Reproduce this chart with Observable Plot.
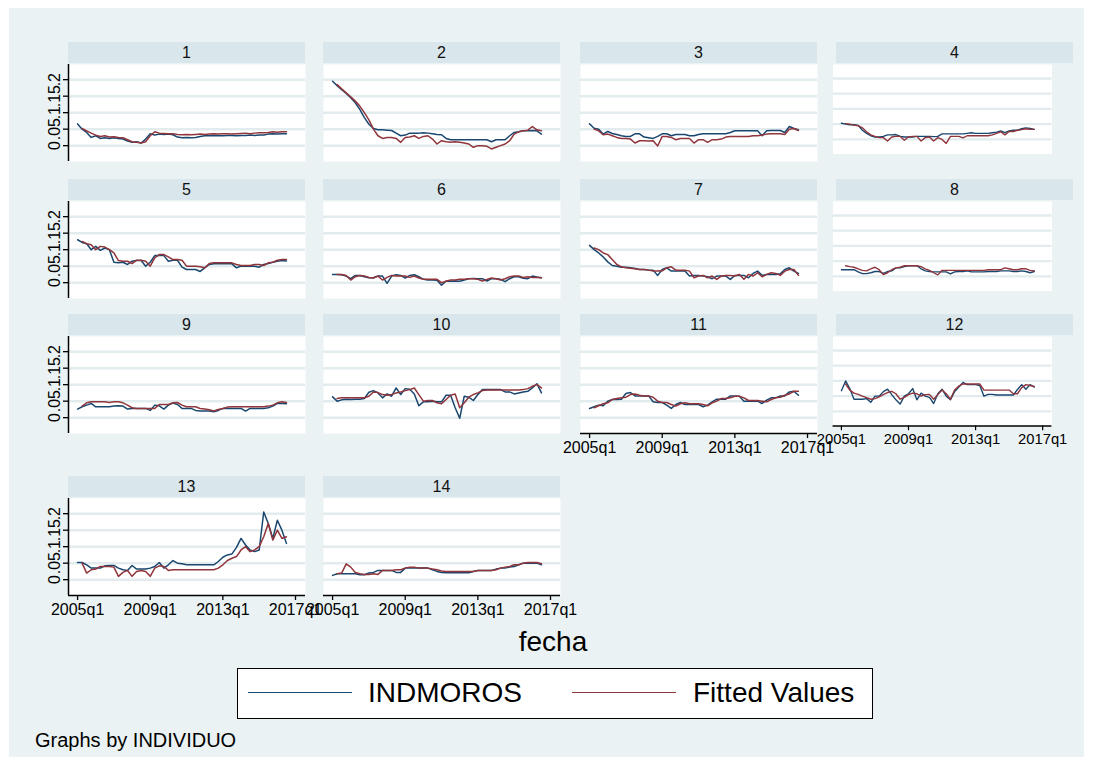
<!DOCTYPE html>
<html><head><meta charset="utf-8">
<script src="https://cdn.jsdelivr.net/npm/d3@7"></script>
<script src="https://cdn.jsdelivr.net/npm/@observablehq/plot@0.6"></script>
<style>
body{margin:0;background:#fff;font-family:"Liberation Sans",Arial,sans-serif;}
#wrap{position:relative;width:1093px;height:765px;overflow:hidden;}
#bg{position:absolute;left:9px;top:8px;width:1075px;height:749px;background:#eaf2f3;}
.hdr{position:absolute;height:21px;background:#d9e6eb;font-size:16px;text-align:center;line-height:22px;color:#111;}
.pan{position:absolute;}
.pan svg{overflow:visible;}
</style></head><body><div id="wrap"><div id="bg"></div></div>
<script>
const panelLabels = ["1","2","3","4","5","6","7","8","9","10","11","12","13","14"];
const xTickPos = [0,16,32,48];
const xTickLabels = ["2005q1","2009q1","2013q1","2017q1"];
const yTicks = [0,.05,.1,.15,.2];
const yTickLabels = ["0",".05",".1",".15",".2"];
const seriesNames = ["INDMOROS","Fitted Values"];
const seriesColors = ["#1a476f","#90353b"];

const ind1=[.066,.05,.04,.025,.03,.022,.024,.022,.024,.022,.02,.014,.01,.012,.008,.02,.036,.032,.035,.034,.035,.033,.026,.024,.025,.024,.025,.028,.03,.03,.031,.03,.03,.031,.031,.03,.031,.031,.032,.031,.032,.032,.035,.036,.035,.036,.036];
const fit1=[null,.052,.045,.038,.032,.028,.03,.026,.027,.025,.024,.018,.012,.01,.008,.012,.03,.042,.038,.037,.036,.036,.034,.033,.034,.033,.034,.035,.034,.035,.036,.035,.036,.036,.035,.036,.037,.038,.036,.038,.039,.039,.04,.042,.041,.042,.042];
const ind2=[.195,.182,.17,.158,.145,.13,.11,.085,.065,.052,.048,.048,.047,.046,.038,.03,.032,.038,.038,.038,.039,.038,.036,.034,.033,.022,.018,.018,.018,.018,.018,.018,.018,.018,.018,.012,.018,.018,.018,.03,.04,.042,.045,.045,.046,.045,.035];
const fit2=[null,.185,.172,.16,.148,.135,.12,.1,.078,.05,.03,.022,.025,.025,.022,.01,.025,.026,.03,.022,.028,.03,.02,.005,.015,.012,.01,.012,.01,.008,.005,-.005,0,0,-.002,-.01,-.005,0,.005,.015,.035,.042,.045,.047,.058,.048,.045];
const ind3=[.066,.053,.05,.035,.043,.037,.034,.03,.028,.028,.036,.036,.026,.024,.022,.028,.036,.036,.03,.034,.034,.034,.03,.03,.034,.036,.036,.036,.036,.036,.036,.04,.045,.045,.045,.045,.045,.045,.03,.045,.046,.046,.046,.04,.058,.052,.048];
const fit3=[null,.05,.045,.033,.035,.03,.025,.022,.022,.02,.008,.015,.015,.014,.015,-.001,.028,.028,.025,.018,.022,.022,.022,.008,.018,.018,.01,.018,.018,.02,.026,.028,.028,.028,.028,.028,.03,.03,.032,.035,.036,.036,.036,.034,.05,.052,.046];
const ind4=[.053,.05,.048,.048,.046,.03,.02,.012,.008,.008,.01,.015,.015,.016,.01,.008,.008,.008,.01,.01,.01,.01,.009,.01,.018,.018,.018,.018,.018,.018,.02,.022,.02,.02,.02,.02,.022,.024,.028,.022,.028,.03,.03,.035,.038,.036,.033];
const fit4=[null,.052,.05,.047,.045,.038,.025,.015,.01,.006,.006,-.005,.008,.01,.01,-.003,.008,.01,.01,-.005,.006,.008,-.005,.006,0,-.013,.01,.01,.01,.005,.012,.012,.012,.012,.012,.012,.015,.02,.025,.015,.026,.026,.03,.032,.035,.033,.033];
const ind5=[.13,.122,.118,.1,.11,.098,.105,.1,.062,.06,.062,.055,.065,.067,.067,.05,.062,.082,.082,.082,.065,.068,.068,.047,.04,.04,.04,.034,.045,.055,.057,.057,.057,.057,.057,.045,.05,.05,.05,.05,.047,.055,.058,.062,.065,.067,.066];
const fit5=[null,.125,.118,.115,.1,.11,.108,.1,.09,.067,.065,.065,.058,.068,.068,.065,.05,.075,.085,.085,.078,.07,.07,.068,.05,.05,.05,.048,.045,.058,.06,.06,.06,.06,.06,.055,.052,.052,.052,.055,.055,.052,.06,.062,.068,.07,.07];
const ind6=[.025,.025,.024,.02,.012,.022,.022,.018,.015,.015,.02,.02,-.002,.02,.024,.022,.014,.022,.024,.018,.01,.008,.008,.007,-.008,.005,.004,.005,.004,.008,.012,.013,.012,.012,.005,.012,.012,.01,.003,.012,.018,.018,.013,.012,.02,.017,.015];
const fit6=[null,.025,.025,.022,.008,.018,.022,.02,.016,.014,.02,.008,.016,.022,.02,.02,.02,.016,.02,.014,.01,.01,.01,.01,0,.004,.008,.008,.01,.01,.012,.012,.01,.005,.01,.014,.012,.008,.012,.018,.02,.02,.016,.018,.016,.016,.015];
const ind7=[.113,.1,.09,.078,.063,.052,.05,.047,.047,.045,.043,.04,.04,.038,.038,.022,.04,.045,.035,.035,.035,.035,.02,.022,.022,.02,.018,.012,.02,.02,.02,.01,.022,.022,.022,.015,.028,.035,.022,.025,.025,.025,.027,.04,.045,.035,.028];
const fit7=[null,.105,.1,.09,.085,.07,.055,.048,.045,.044,.042,.04,.04,.038,.035,.035,.036,.045,.048,.038,.038,.038,.035,.015,.02,.022,.015,.02,.01,.02,.022,.022,.02,.025,.01,.025,.02,.03,.018,.025,.03,.028,.022,.035,.04,.04,.022];
const ind8=[.022,.022,.022,.022,.015,.009,.009,.012,.016,.016,.01,.016,.018,.028,.028,.032,.035,.035,.035,.025,.018,.016,.015,.015,.015,.015,.008,.015,.016,.016,.018,.015,.015,.015,.015,.016,.016,.016,.018,.018,.018,.016,.016,.018,.016,.012,.016];
const fit8=[null,.035,.032,.03,.025,.02,.018,.025,.03,.022,.006,.012,.022,.028,.03,.035,.035,.035,.035,.032,.025,.02,.012,.005,.02,.02,.02,.02,.02,.02,.02,.02,.02,.02,.02,.022,.022,.022,.022,.028,.025,.022,.022,.025,.025,.02,.018];
const ind9=[.026,.033,.038,.043,.033,.033,.033,.033,.035,.036,.035,.026,.028,.028,.028,.028,.022,.038,.036,.026,.038,.044,.04,.028,.028,.028,.022,.02,.02,.02,.018,.022,.028,.028,.028,.028,.028,.02,.028,.028,.028,.028,.03,.035,.043,.043,.042];
const fit9=[null,.035,.045,.048,.048,.048,.048,.046,.048,.048,.045,.038,.03,.028,.028,.028,.028,.028,.04,.04,.04,.045,.046,.038,.033,.033,.033,.028,.026,.024,.02,.025,.028,.032,.033,.033,.033,.033,.033,.033,.033,.033,.035,.038,.045,.048,.046];
const ind10=[.063,.05,.054,.056,.055,.056,.056,.058,.077,.082,.075,.06,.072,.065,.09,.07,.088,.086,.072,.036,.048,.048,.05,.048,.048,.068,.068,.03,-.002,.065,.062,.052,.07,.085,.085,.085,.085,.085,.078,.078,.072,.075,.078,.08,.09,.103,.075];
const fit10=[null,.058,.06,.06,.06,.06,.06,.06,.065,.078,.076,.07,.068,.07,.075,.078,.082,.085,.09,.07,.05,.052,.052,.045,.042,.055,.068,.072,.03,.045,.062,.07,.075,.082,.084,.084,.084,.084,.084,.084,.084,.084,.085,.088,.095,.1,.09];
const ind11=[.028,.033,.038,.036,.05,.055,.055,.056,.073,.076,.066,.066,.066,.066,.048,.046,.046,.038,.028,.04,.046,.04,.04,.04,.04,.033,.038,.048,.056,.056,.056,.066,.066,.065,.05,.05,.05,.05,.043,.053,.06,.06,.066,.066,.078,.08,.068];
const fit11=[null,.03,.036,.042,.045,.055,.058,.06,.062,.07,.072,.068,.066,.066,.062,.05,.046,.046,.04,.035,.042,.045,.042,.042,.042,.04,.036,.045,.05,.058,.058,.06,.065,.065,.06,.052,.052,.052,.05,.048,.055,.06,.062,.068,.072,.08,.08];
const ind12=[.068,.1,.075,.04,.04,.04,.042,.03,.05,.05,.065,.073,.055,.038,.024,.05,.058,.075,.038,.06,.05,.046,.026,.058,.073,.05,.038,.065,.08,.095,.088,.088,.088,.085,.05,.056,.056,.054,.054,.054,.054,.054,.072,.088,.073,.088,.08];
const fit12=[null,.09,.07,.06,.056,.05,.045,.04,.042,.048,.055,.062,.066,.058,.04,.046,.055,.06,.058,.05,.055,.056,.04,.055,.07,.058,.04,.07,.083,.09,.09,.09,.09,.09,.07,.07,.07,.07,.07,.07,.07,.058,.058,.078,.088,.085,.082];
const ind13=[.052,.052,.045,.035,.035,.035,.042,.043,.043,.035,.03,.028,.043,.032,.032,.032,.035,.04,.052,.035,.045,.058,.05,.048,.045,.045,.045,.045,.045,.045,.045,.055,.068,.075,.078,.098,.125,.105,.09,.085,.09,.205,.17,.125,.18,.15,.11];
const fit13=[null,.05,.02,.03,.032,.04,.04,.04,.038,.01,.022,.028,.01,.025,.028,.025,.01,.035,.042,.04,.028,.03,.03,.03,.03,.03,.03,.03,.03,.03,.03,.035,.045,.058,.065,.07,.09,.1,.085,.09,.1,.13,.17,.12,.15,.125,.13];
const ind14=[.013,.018,.018,.018,.018,.018,.015,.015,.02,.022,.028,.028,.028,.028,.022,.022,.035,.035,.035,.035,.035,.035,.03,.025,.022,.021,.021,.021,.021,.021,.021,.025,.028,.028,.028,.028,.032,.035,.035,.038,.04,.045,.05,.05,.05,.05,.045];
const fit14=[null,.018,.02,.048,.038,.022,.018,.016,.016,.018,.016,.028,.028,.028,.03,.03,.035,.038,.038,.035,.035,.035,.032,.03,.026,.025,.025,.025,.025,.025,.025,.025,.028,.028,.028,.028,.03,.035,.038,.04,.045,.045,.05,.052,.052,.052,.048];

const indAll=[ind1,ind2,ind3,ind4,ind5,ind6,ind7,ind8,ind9,ind10,ind11,ind12,ind13,ind14];
const fitAll=[fit1,fit2,fit3,fit4,fit5,fit6,fit7,fit8,fit9,fit10,fit11,fit12,fit13,fit14];

const wrap=document.getElementById("wrap");
const colLeft=[68,323,580,836], rowTop=[64,201,336,498];
const W=237,H=97,ML=45,MR=45,MB=40;
const font='"Liberation Sans",Arial,sans-serif';

panelLabels.forEach((lab,i)=>{
  const r=Math.floor(i/4), c=i%4;
  const showY = c===0;
  const showX = i>=10;
  const rows=[];
  indAll[i].forEach((v,t)=>{ if(v!=null) rows.push({t,v,s:seriesNames[0]}); });
  fitAll[i].forEach((v,t)=>{ if(v!=null) rows.push({t,v,s:seriesNames[1]}); });

  const hdr=document.createElement("div");
  hdr.className="hdr";
  hdr.style.left=colLeft[c]+"px"; hdr.style.top=(rowTop[r]-22)+"px"; hdr.style.width=W+"px";
  hdr.textContent=lab;
  wrap.appendChild(hdr);

  const marks=[
    Plot.frame({fill:"white",stroke:null}),
    Plot.ruleY(yTicks,{stroke:"#e2ebee",strokeWidth:2.5}),
    Plot.line(rows,{x:"t",y:"v",z:"s",stroke:"s",strokeWidth:1.5})
  ];
  if(showY){
    marks.push(Plot.axisY(yTicks,{label:null,tickFormat:d=>yTickLabels[yTicks.indexOf(d)],tickRotate:-90,tickSize:5,tickPadding:4,fontSize:16,stroke:"#000",strokeWidth:1.3,fill:"#000"}));
    marks.push(Plot.ruleX([-2],{stroke:"#000",strokeWidth:1.5}));
  }
  if(showX){
    marks.push(Plot.axisX(xTickPos,{label:null,tickFormat:d=>xTickLabels[xTickPos.indexOf(d)],tickSize:5,tickPadding:3,fontSize:16,stroke:"#000",strokeWidth:1.3,fill:"#000"}));
    marks.push(Plot.ruleY([-0.048],{stroke:"#000",strokeWidth:1.5}));
  }
  const chart=Plot.plot({
    width:W+ML+MR,height:H+MB,marginLeft:ML,marginRight:MR,marginTop:0,marginBottom:MB,
    x:{domain:[-2,50.2],label:null,...(showX?{}:{axis:null})},
    y:{domain:[-0.048,0.246],label:null,...(showY?{}:{axis:null})},
    color:{domain:seriesNames,range:seriesColors},
    style:{background:"transparent",overflow:"visible",fontFamily:font,fontSize:"16px",color:"#000"},
    marks
  });
  const d=document.createElement("div");
  d.className="pan";
  d.style.left=(colLeft[c]-ML)+"px"; d.style.top=rowTop[r]+"px";
  d.appendChild(chart);
  wrap.appendChild(d);
});

// axis title
const xt=document.createElement("div");
xt.style.cssText="position:absolute;left:453px;width:200px;top:626px;text-align:center;font-size:28px;color:#000;";
xt.textContent="fecha";
wrap.appendChild(xt);

// legend
const lg=document.createElement("div");
lg.style.cssText="position:absolute;left:237px;top:668px;width:634px;height:49px;background:#fff;border:1.5px solid #000;";
wrap.appendChild(lg);
const items=[{x:248,tx:368},{x:572,tx:693}];
items.forEach((it,k)=>{
  const ln=document.createElement("div");
  ln.style.cssText=`position:absolute;left:${it.x}px;top:692px;width:104px;height:0;border-top:1.6px solid ${seriesColors[k]};`;
  wrap.appendChild(ln);
  const tx=document.createElement("div");
  tx.style.cssText=`position:absolute;left:${it.tx}px;top:677px;font-size:28px;line-height:32px;color:#000;white-space:nowrap;`;
  tx.textContent=seriesNames[k];
  wrap.appendChild(tx);
});
const cap=document.createElement("div");
cap.style.cssText="position:absolute;left:35px;top:729px;font-size:20px;color:#000;white-space:nowrap;";
cap.textContent="Graphs by INDIVIDUO";
wrap.appendChild(cap);
</script></body></html>
